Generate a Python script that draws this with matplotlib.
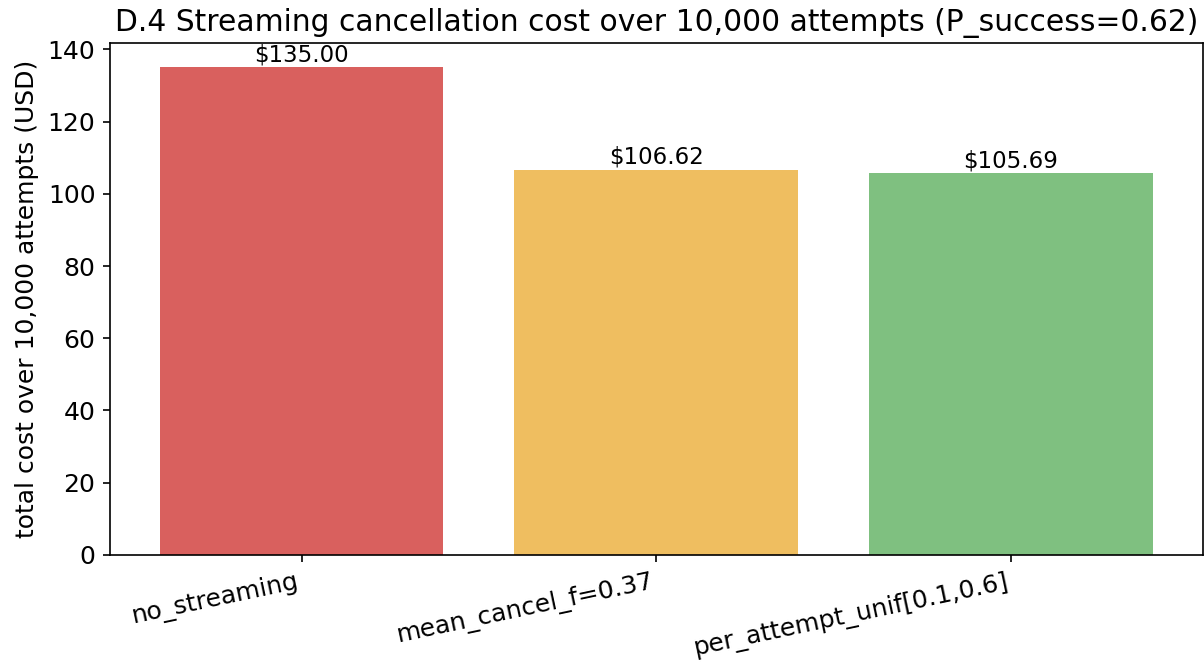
import matplotlib
matplotlib.use("Agg")
import matplotlib.pyplot as plt
import numpy as np

# strategies and total cost over 10,000 attempts
strategies = ["no_streaming", "mean_cancel_f=0.37", "per_attempt_unif[0.1,0.6]"]
costs = [135.00, 106.62, 105.69]
bar_colors = ["#d9605e", "#efbe60", "#7fc080"]

fig, ax = plt.subplots(figsize=(8.033, 4.42), dpi=150)
fig.subplots_adjust(left=0.0913, right=0.998, bottom=0.163, top=0.935)

x = np.arange(len(strategies))
bars = ax.bar(x, costs, width=0.8, color=bar_colors)

# dollar labels on top of each bar
for rect, val in zip(bars, costs):
    ax.annotate(f"${val:.2f}",
                xy=(rect.get_x() + rect.get_width() / 2, rect.get_height()),
                xytext=(0, 0.5), textcoords="offset points",
                ha="center", va="bottom", fontsize=11)

ax.set_xticks(x)
ax.set_xticklabels(strategies, rotation=12, ha="right", fontsize=12)
ax.tick_params(axis="y", labelsize=12)
ax.set_ylim(0, max(costs) * 1.05)
ax.set_ylabel("total cost over 10,000 attempts (USD)", fontsize=12)
ax.set_title("D.4 Streaming cancellation cost over 10,000 attempts (P_success=0.62)",
             fontsize=14.3)

fig.savefig("out.png", dpi=150)
